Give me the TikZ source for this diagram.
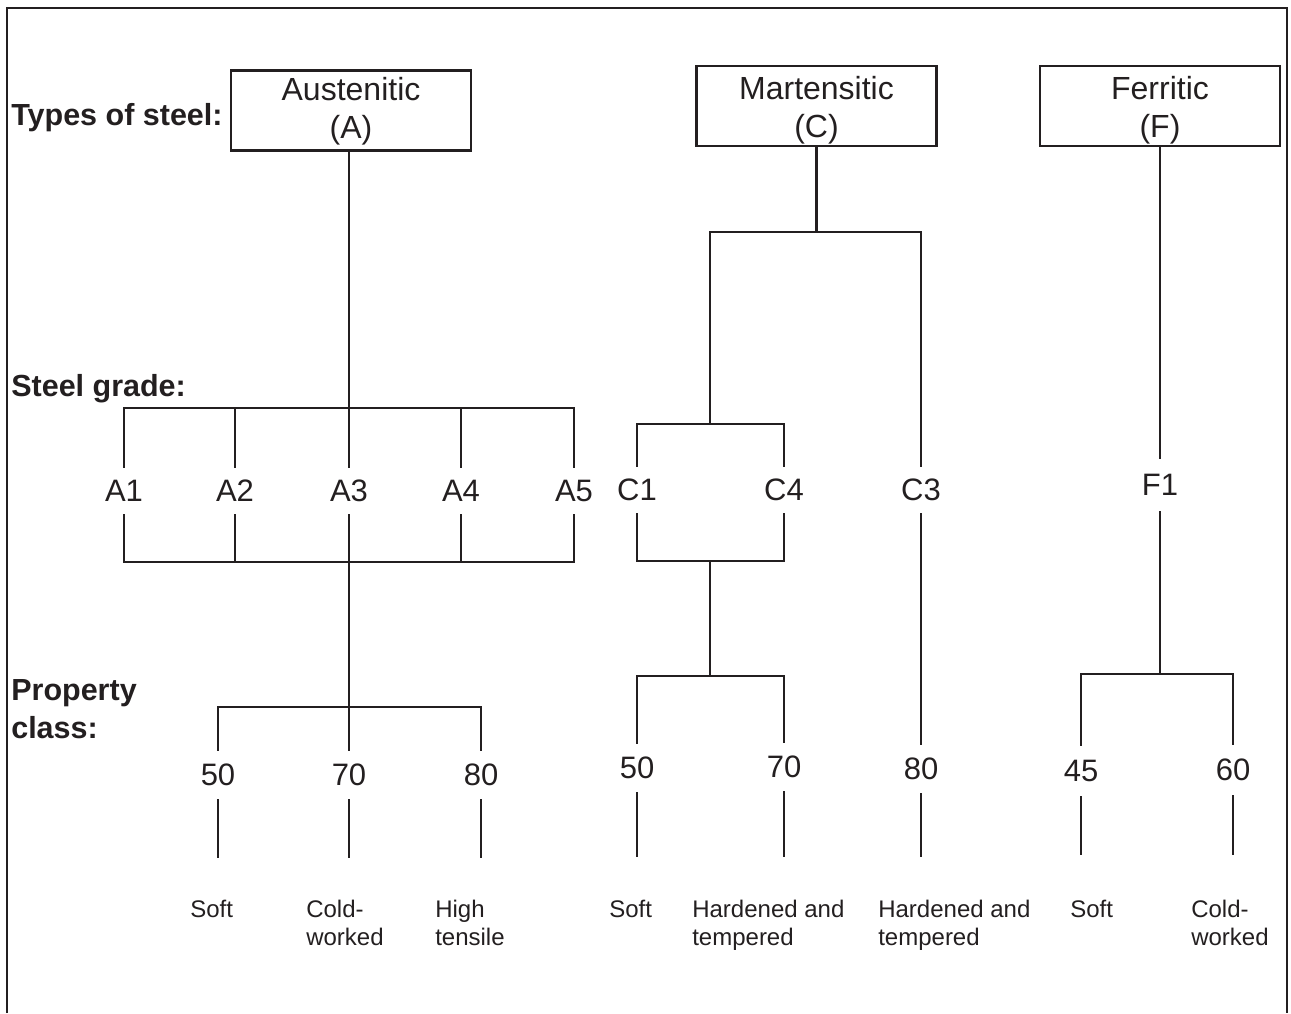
\documentclass[tikz,border=0pt]{standalone}
\usepackage{fontspec}
\setmainfont{Liberation Sans}
\definecolor{ink}{RGB}{35,31,32}
\tikzset{
  typebox/.style={draw, inner sep=0pt, minimum width=240pt, minimum height=80pt,
    align=center, font=\fontsize{32}{38}\selectfont},
  grade/.style={inner sep=0pt, minimum height=44pt, font=\fontsize{31}{36}\selectfont},
  pclass/.style={inner sep=0pt, minimum height=46pt, font=\fontsize{31}{36}\selectfont},
  heading/.style={inner sep=0pt, align=left, font=\bfseries\fontsize{30.5}{38}\selectfont},
  note/.style={inner sep=0pt, align=left, anchor=north west, font=\fontsize{24}{28}\selectfont},
}
\begin{document}
\begin{tikzpicture}[x=1pt, y=-1pt, line width=2.6pt, color=ink]
\useasboundingbox (0,0) rectangle (1291,1013);

% open frame
\draw (7,1013) -- (7,8) -- (1287,8) -- (1287,1013);

% row headings
\node[heading, anchor=base west] (hType) at (10,125) {Types of steel:};
\node[heading, anchor=base west] (hGrade) at (10,396) {Steel grade:};
\node[heading, anchor=north west] (hProp) at (10,678) {Property\\class:};

% types of steel
\node[typebox] (tA) at (351,110.5) {\rule{0pt}{25pt}Austenitic\\(A)};
\node[typebox] (tC) at (816.5,106) {\rule{0pt}{31pt}Martensitic\\(C)};
\node[typebox] (tF) at (1160,106) {\rule{0pt}{31pt}Ferritic\\(F)};

% steel grades
\node[grade] (A1) at (124,491) {A1};
\node[grade] (A2) at (235,491) {A2};
\node[grade] (A3) at (349,491) {A3};
\node[grade] (A4) at (461,491) {A4};
\node[grade] (A5) at (574,491) {A5};
\node[grade] (C1) at (637,490) {C1};
\node[grade] (C4) at (784,490) {C4};
\node[grade] (C3) at (921,490) {C3};
\node[grade, minimum height=50pt] (F1) at (1160,485) {F1};

% property classes
\node[pclass] (pA50) at (218,775) {50};
\node[pclass] (pA70) at (349,775) {70};
\node[pclass] (pA80) at (481,775) {80};
\node[pclass] (pC50) at (637,768) {50};
\node[pclass] (pC70) at (784,767) {70};
\node[pclass] (pC80) at (921,769) {80};
\node[pclass, minimum height=48pt] (pF45) at (1081,771) {45};
\node[pclass, minimum height=48pt] (pF60) at (1233,770) {60};

% condition notes
\node[note] (nA50) at (189,899) {Soft};
\node[note] (nA70) at (305,899) {Cold-\\worked};
\node[note] (nA80) at (434,899) {High\\tensile};
\node[note] (nC50) at (608,899) {Soft};
\node[note] (nC70) at (691,899) {Hardened and\\tempered};
\node[note] (nC80) at (877,899) {Hardened and\\tempered};
\node[note] (nF45) at (1069,899) {Soft};
\node[note] (nF60) at (1190,899) {Cold-\\worked};

% junction points
\coordinate (jA) at (349,408);
\coordinate (kA) at (349,562);
\coordinate (jPA) at (349,707);
\coordinate (jC) at (816.5,232);
\coordinate (jCC) at (710,424);
\coordinate (kC) at (710,561);
\coordinate (jPC) at (710,676);
\coordinate (jPF) at (1160,674);

% free ends of the lowest ticks
\coordinate (eA50) at (218,858);
\coordinate (eA70) at (349,858);
\coordinate (eA80) at (481,858);
\coordinate (eC50) at (637,857);
\coordinate (eC70) at (784,857);
\coordinate (eC80) at (921,857);
\coordinate (eF45) at (1081,855);
\coordinate (eF60) at (1233,855);

% austenitic branch
\draw (tA.south -| A3.north) -- (A3.north);
\draw (A1.north) |- (jA) -| (A5.north);
\draw (A2.north) -- (A2.north |- jA);
\draw (A4.north) -- (A4.north |- jA);
\draw (A1.south) |- (kA) -| (A5.south);
\draw (A2.south) -- (A2.south |- kA);
\draw (A4.south) -- (A4.south |- kA);
\draw (A3.south) -- (pA70.north);
\draw (pA50.north) |- (jPA) -| (pA80.north);

% martensitic branch
\draw (tC.south) -- (jC);
\draw (jCC) |- (jC) -| (C3.north);
\draw (C1.north) |- (jCC) -| (C4.north);
\draw (C1.south) |- (kC) -| (C4.south);
\draw (kC) -- (jPC);
\draw (pC50.north) |- (jPC) -| (pC70.north);
\draw (C3.south) -- (pC80.north);

% ferritic branch
\draw (tF.south) -- (F1.north);
\draw (F1.south) -- (jPF);
\draw (pF45.north) |- (jPF) -| (pF60.north);

% ticks down to the conditions
\draw (pA50.south) -- (eA50);
\draw (pA70.south) -- (eA70);
\draw (pA80.south) -- (eA80);
\draw (pC50.south) -- (eC50);
\draw (pC70.south) -- (eC70);
\draw (pC80.south) -- (eC80);
\draw (pF45.south) -- (eF45);
\draw (pF60.south) -- (eF60);
\end{tikzpicture}
\end{document}
